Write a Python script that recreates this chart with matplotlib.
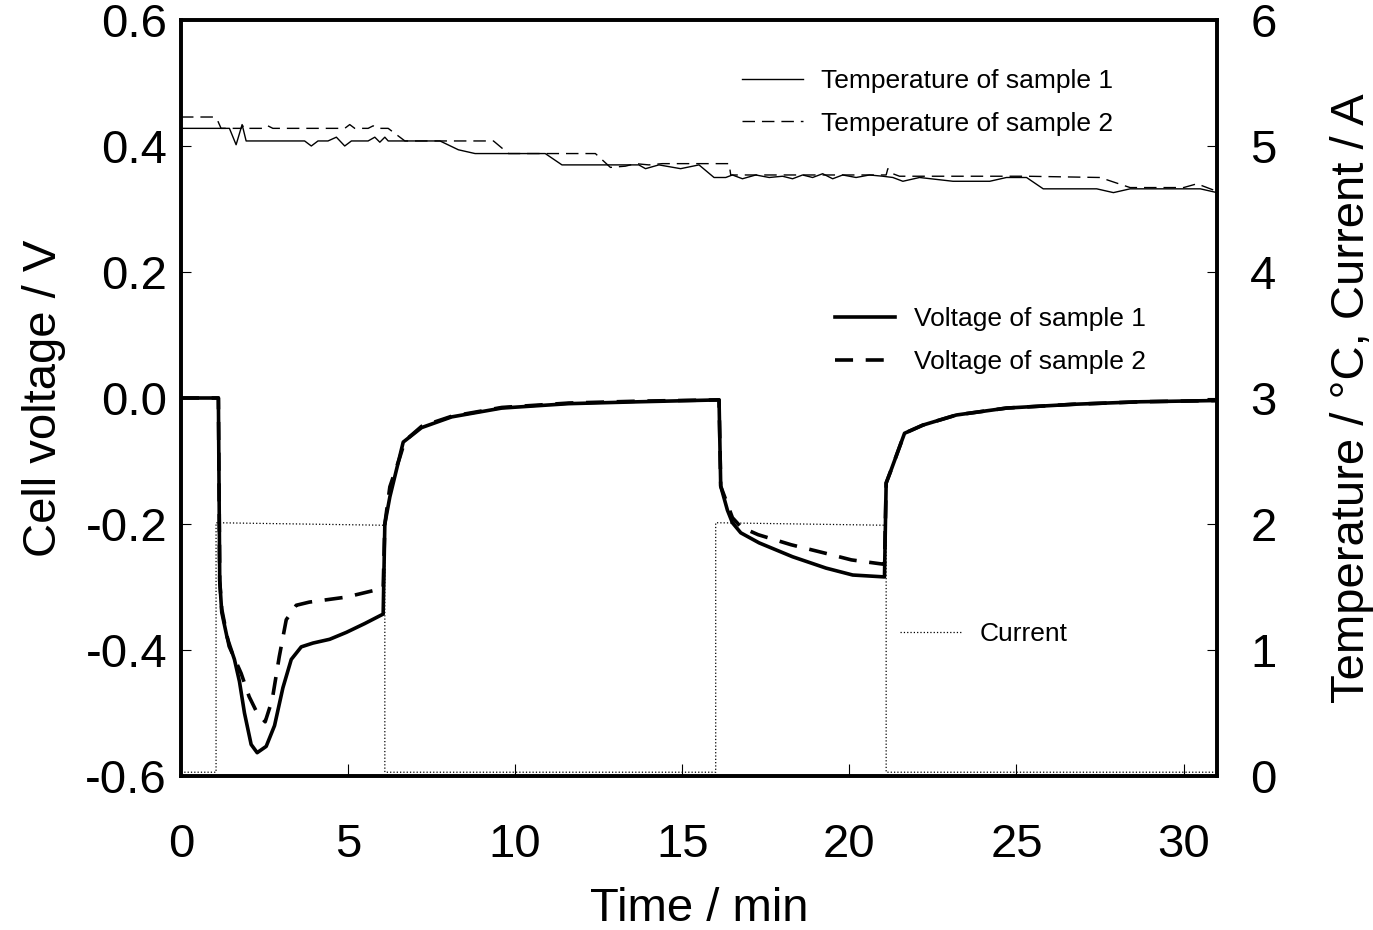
import matplotlib
matplotlib.use("Agg")
import matplotlib.pyplot as plt

plt.rcParams['font.family'] = ['Liberation Sans', 'DejaVu Sans']
plt.rcParams['axes.unicode_minus'] = False

# voltage, sample 1
t_v1 = [0, 1.12, 1.16, 1.22, 1.38, 1.6, 1.75, 1.9, 2.1, 2.28, 2.55, 2.8, 3.05, 3.3, 3.6,
        3.95, 4.45, 4.95, 5.5, 6.05, 6.1, 6.25, 6.65, 7.2, 8.1, 9.6, 11.6, 13.7, 16.1,
        16.15, 16.35, 16.5, 16.75, 17.3, 18.3, 19.3, 20.1, 21.05, 21.1, 21.25, 21.65,
        22.2, 23.2, 24.7, 26.7, 28.7, 31]
v1 = [0.0, 0.0, -0.29, -0.34, -0.38, -0.415, -0.45, -0.50, -0.55, -0.563, -0.553, -0.52,
      -0.46, -0.415, -0.395, -0.389, -0.383, -0.372, -0.358, -0.343, -0.2, -0.157, -0.07,
      -0.047, -0.03, -0.016, -0.009, -0.006, -0.003, -0.14, -0.178, -0.198, -0.214,
      -0.23, -0.252, -0.27, -0.281, -0.284, -0.135, -0.114, -0.056, -0.043, -0.027,
      -0.016, -0.01, -0.006, -0.004]

# voltage, sample 2
t_v2 = [0, 1.12, 1.16, 1.22, 1.44, 1.8, 2.04, 2.28, 2.52, 2.73, 2.94, 3.15, 3.45, 3.84,
        4.95, 6.05, 6.1, 6.25, 6.55, 6.7, 7.2, 8.1, 9.6, 11.6, 13.7, 16.1, 16.15, 16.5,
        16.76, 17.27, 18.26, 19.25, 20.06, 20.9, 21.05, 21.1, 21.25, 21.65, 22.2, 23.2,
        24.7, 26.7, 28.7, 31]
v2 = [0.0, 0.0, -0.29, -0.335, -0.394, -0.437, -0.474, -0.50, -0.514, -0.479, -0.411,
      -0.352, -0.329, -0.324, -0.316, -0.302, -0.2, -0.141, -0.094, -0.068, -0.045,
      -0.029, -0.015, -0.008, -0.005, -0.003, -0.14, -0.19, -0.205, -0.217, -0.233,
      -0.246, -0.257, -0.263, -0.264, -0.135, -0.114, -0.056, -0.043, -0.027, -0.016,
      -0.01, -0.006, -0.004]

# temperature, sample 1
t_T1 = [0, 1.45, 1.65, 1.83, 1.95, 3.7, 3.9, 4.1, 4.4, 4.65, 4.9, 5.1, 5.6, 5.8, 5.95,
        6.1, 6.2, 7.75, 8.3, 8.8, 10.9, 11.4, 13.7, 13.9, 14.3, 14.95, 15.5, 15.95,
        16.3, 16.5, 16.8, 17.2, 17.6, 18.0, 18.3, 18.6, 18.9, 19.2, 19.5, 19.8, 20.2,
        20.6, 21.0, 21.3, 21.6, 22.1, 23.1, 24.2, 24.7, 25.3, 25.8, 27.4, 27.9, 28.4,
        30.5, 31]
T1 = [5.14, 5.14, 5.01, 5.17, 5.04, 5.04, 5.0, 5.04, 5.04, 5.07, 5.0, 5.04, 5.04, 5.07,
      5.03, 5.07, 5.04, 5.04, 4.97, 4.94, 4.94, 4.85, 4.85, 4.82, 4.85, 4.82, 4.85, 4.75,
      4.75, 4.77, 4.74, 4.77, 4.75, 4.76, 4.74, 4.77, 4.75, 4.78, 4.74, 4.77, 4.75,
      4.77, 4.76, 4.75, 4.72, 4.75, 4.72, 4.72, 4.75, 4.75, 4.66, 4.66, 4.63, 4.66,
      4.66, 4.63]

# temperature, sample 2
t_T2 = [0, 1.0, 1.1, 1.2, 1.8, 1.85, 1.9, 2.5, 2.6, 2.75, 4.9, 5.05, 5.2, 5.6, 5.75,
        5.9, 6.2, 6.7, 9.35, 9.8, 12.4, 12.85, 13.3, 13.6, 14.0, 14.4, 16.4, 16.45,
        21.1, 21.15, 21.3, 21.5, 25.3, 27.5, 28.4, 30.0, 30.4, 31]
T2 = [5.23, 5.23, 5.2, 5.14, 5.14, 5.16, 5.14, 5.14, 5.16, 5.14, 5.14, 5.17, 5.14,
      5.14, 5.16, 5.14, 5.14, 5.04, 5.04, 4.94, 4.94, 4.83, 4.84, 4.86, 4.85, 4.86,
      4.86, 4.77, 4.77, 4.82, 4.78, 4.76, 4.76, 4.75, 4.67, 4.67, 4.70, 4.64]

# current
t_cur = [0, 1.05, 1.05, 6.1, 6.1, 16.0, 16.0, 21.1, 21.1, 31]
cur = [0.03, 0.03, 2.01, 1.99, 0.03, 0.03, 2.01, 1.99, 0.03, 0.03]

fig = plt.figure(figsize=(13.73, 9.3), dpi=100)
ax = fig.add_axes([0.1318, 0.1656, 0.7546, 0.8129])
ax2 = ax.twinx()

# voltage on left axis
l_v1, = ax.plot(t_v1, v1, color='black', lw=2.6, label='Voltage of sample 1')
l_v2, = ax.plot(t_v2, v2, color='black', lw=2.6, dashes=(5, 3.5), label='Voltage of sample 2')

# temperature and current on right axis
l_t1, = ax2.plot(t_T1, T1, color='black', lw=1.0, label='Temperature of sample 1')
l_t2, = ax2.plot(t_T2, T2, color='black', lw=1.0, dashes=(9, 5), label='Temperature of sample 2')
l_c, = ax2.plot(t_cur, cur, color='black', lw=0.9, ls=':', label='Current')

ax.set_xlim(0, 31)
ax.set_ylim(-0.6, 0.6)
ax2.set_ylim(0, 6)
ax.set_xticks([0, 5, 10, 15, 20, 25, 30])
ax.set_yticks([-0.6, -0.4, -0.2, 0.0, 0.2, 0.4, 0.6])
ax.set_yticklabels(['-0.6', '-0.4', '-0.2', '0.0', '0.2', '0.4', '0.6'])
ax2.set_yticks([0, 1, 2, 3, 4, 5, 6])

ax.tick_params(axis='x', direction='in', length=9, width=0.8, labelsize=34, pad=34)
ax.tick_params(axis='y', direction='in', length=7, width=0.8, labelsize=34, pad=10)
ax2.tick_params(axis='y', direction='in', length=7, width=0.8, labelsize=34, pad=24)

for a in (ax, ax2):
    for s in a.spines.values():
        s.set_linewidth(2.6)

ax.set_xlabel('Time / min', fontsize=34, labelpad=14)
ax.set_ylabel('Cell voltage / V', fontsize=34, labelpad=14)
ax2.set_ylabel('Temperature / °C, Current / A', fontsize=34, labelpad=38)

leg_kw = dict(frameon=False, fontsize=19, handlelength=2.3, handletextpad=0.7,
              borderpad=0, borderaxespad=0, labelspacing=0.7, loc='center left')
leg1 = ax2.legend(handles=[l_t1, l_t2], bbox_to_anchor=(0.5415, 0.891), **leg_kw)
ax2.add_artist(leg1)
leg2 = ax2.legend(handles=[l_v1, l_v2], bbox_to_anchor=(0.631, 0.576), **leg_kw)
ax2.add_artist(leg2)
ax2.legend(handles=[l_c], bbox_to_anchor=(0.694, 0.188), **leg_kw)

fig.savefig('out.png', dpi=100)
